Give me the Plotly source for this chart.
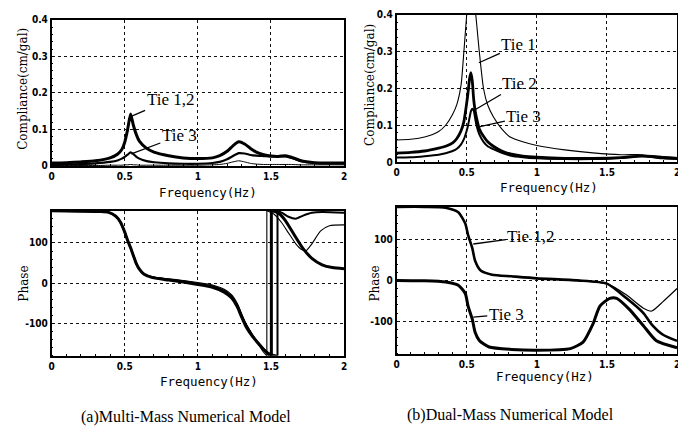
import plotly.graph_objects as go

# ---------------- data ----------------
# (a) multi-mass compliance
f_tl = [0, 0.1, 0.2, 0.3, 0.4, 0.45, 0.48, 0.5, 0.52, 0.54, 0.56, 0.58, 0.6, 0.65, 0.7, 0.8, 0.9, 1.0,
        1.1, 1.15, 1.2, 1.24, 1.28, 1.32, 1.36, 1.4, 1.45, 1.5, 1.55, 1.6, 1.64, 1.7, 1.8, 1.9, 2.0]
comp_a_tie12 = [0.008, 0.009, 0.011, 0.014, 0.022, 0.032, 0.045, 0.065, 0.1, 0.142, 0.11, 0.085, 0.068,
                0.048, 0.038, 0.028, 0.022, 0.02, 0.022, 0.028, 0.04, 0.055, 0.066, 0.06, 0.048, 0.038,
                0.031, 0.027, 0.026, 0.028, 0.024, 0.015, 0.009, 0.008, 0.008]
comp_a_tie3 = [0.003, 0.004, 0.005, 0.007, 0.011, 0.015, 0.02, 0.025, 0.031, 0.037, 0.032, 0.025, 0.02,
               0.013, 0.01, 0.007, 0.006, 0.006, 0.008, 0.011, 0.018, 0.027, 0.035, 0.034, 0.03, 0.028,
               0.027, 0.026, 0.026, 0.026, 0.022, 0.014, 0.008, 0.007, 0.007]
comp_a_thin = [0.001, 0.001, 0.001, 0.001, 0.002, 0.002, 0.002, 0.003, 0.003, 0.004, 0.003, 0.003, 0.002,
               0.002, 0.002, 0.002, 0.002, 0.002, 0.003, 0.004, 0.007, 0.011, 0.014, 0.011, 0.007, 0.005,
               0.004, 0.004, 0.004, 0.004, 0.004, 0.003, 0.003, 0.003, 0.003]

# (b) dual-mass compliance
f_tr = [0, 0.1, 0.2, 0.3, 0.35, 0.4, 0.43, 0.46, 0.48, 0.5, 0.51, 0.52, 0.53, 0.54, 0.55, 0.56, 0.57,
        0.59, 0.62, 0.65, 0.69, 0.75, 0.81, 0.9, 1.0, 1.2, 1.4, 1.6, 1.75, 1.9, 2.0]
comp_b_tie1 = [0.06, 0.062, 0.068, 0.083, 0.1, 0.13, 0.157, 0.21, 0.3, 0.4, 0.45, 0.5, 0.55, 0.52, 0.47,
               0.42, 0.38, 0.3, 0.2, 0.155, 0.123, 0.09, 0.068, 0.055, 0.045, 0.033, 0.025, 0.02, 0.02,
               0.015, 0.012]
comp_b_tie2 = [0.024, 0.026, 0.03, 0.038, 0.043, 0.052, 0.064, 0.085, 0.11, 0.16, 0.19, 0.225, 0.243,
               0.22, 0.17, 0.14, 0.12, 0.09, 0.07, 0.055, 0.043, 0.03, 0.022, 0.016, 0.013, 0.01, 0.01,
               0.012, 0.016, 0.012, 0.01]
comp_b_tie3 = [0.012, 0.013, 0.016, 0.02, 0.024, 0.03, 0.036, 0.048, 0.062, 0.085, 0.1, 0.12, 0.138,
               0.145, 0.14, 0.12, 0.1, 0.075, 0.055, 0.043, 0.035, 0.025, 0.018, 0.013, 0.01, 0.008,
               0.008, 0.011, 0.017, 0.01, 0.008]

# (a) multi-mass phase: each curve before and after its -180/+180 wrap
f_pa_pre = [0, 0.2, 0.33, 0.39, 0.44, 0.47, 0.50, 0.52, 0.54, 0.56, 0.58, 0.6, 0.63, 0.69, 0.8, 0.9,
            1.0, 1.1, 1.18, 1.23, 1.27, 1.3, 1.33, 1.37, 1.42]
ph_a_thick_pre = [180, 179, 178, 176, 166, 152, 127, 106, 88, 68, 48, 35, 23, 14, 8, 3, -3, -10, -22,
                  -36, -58, -84, -108, -130, -152]
ph_a_mid_pre = [180, 179, 178, 176, 166, 152, 127, 106, 88, 68, 48, 35, 23, 15, 9, 5, -1, -7, -18,
                -32, -54, -80, -104, -127, -150]
ph_a_thin_pre = [180, 179, 178, 176, 166, 152, 127, 106, 88, 68, 48, 35, 24, 16, 11, 7, 2, -4, -15,
                 -28, -50, -76, -100, -125, -155]
f_pa_thick_end = [1.46, 1.49, 1.503]
ph_a_thick_end = [-168, -178, -180]
f_pa_mid_end = [1.46, 1.5, 1.545]
ph_a_mid_end = [-166, -176, -180]
f_pa_thin_end = [1.45, 1.472]
ph_a_thin_end = [-171, -180]

f_pa_thick_post = [1.503, 1.53, 1.56, 1.6, 1.66, 1.72, 1.78, 1.85, 1.92, 2.0]
ph_a_thick_post = [180, 178, 172, 155, 120, 86, 62, 46, 39, 36]
f_pa_mid_post = [1.545, 1.58, 1.62, 1.67, 1.72, 1.78, 1.85, 2.0]
ph_a_mid_post = [180, 174, 165, 160, 168, 175, 177, 175]
f_pa_thin_post = [1.472, 1.52, 1.57, 1.62, 1.67, 1.71, 1.74, 1.78, 1.84, 1.9, 2.0]
ph_a_thin_post = [180, 172, 152, 125, 98, 84, 81, 98, 130, 143, 145]

# (b) dual-mass phase
f_pb = [0, 0.2, 0.35, 0.44, 0.49, 0.51, 0.54, 0.56, 0.6, 0.68, 0.82, 1.0, 1.29, 1.5, 1.64, 1.76,
        1.82, 1.9, 2.0]
ph_b_tie12_thin = [180, 180, 178, 167, 139, 111, 79, 48, 24, 14, 10, 5, 0, -8, -36, -68, -75, -52, -20]
ph_b_tie12_thick = [180, 180, 178, 167, 139, 111, 79, 48, 24, 14, 10, 5, 0, -8, -44, -80, -108, -133,
                    -148]
f_pb3 = [0, 0.2, 0.35, 0.44, 0.49, 0.51, 0.54, 0.56, 0.59, 0.66, 0.82, 1.0, 1.24, 1.33, 1.4, 1.45,
         1.52, 1.57, 1.66, 1.76, 1.85, 2.0]
ph_b_tie3 = [0, -1, -4, -12, -32, -63, -95, -127, -147, -163, -169, -171, -167, -151, -107, -63, -44,
             -44, -71, -111, -147, -165]

x_ticks = [0, 0.5, 1, 1.5, 2]
x_ticktext = ["0", "0.5", "1", "1.5", "2"]
comp_ticks = [0, 0.1, 0.2, 0.3, 0.4]
comp_ticktext = ["0", "0.1", "0.2", "0.3", "0.4"]
phase_ticks = [-100, 0, 100]
phase_ticktext = ["-100", "0", "100"]

# ---------------- figure ----------------
OFF = 8                      # default page (body) margin
W, H = 686 - OFF, 432 - OFF  # figure size
fig = go.Figure()


def line(x, y, xa, ya, w, shape="spline"):
    fig.add_trace(go.Scatter(x=x, y=y, xaxis=xa, yaxis=ya, mode="lines",
                             line=dict(color="black", width=w, shape=shape, smoothing=0.6),
                             showlegend=False, hoverinfo="skip"))


line(f_tl, comp_a_thin, "x", "y", 1)
line(f_tl, comp_a_tie3, "x", "y", 2.2)
line(f_tl, comp_a_tie12, "x", "y", 3)

line(f_tr, comp_b_tie1, "x2", "y2", 1.1)
line(f_tr, comp_b_tie3, "x2", "y2", 2)
line(f_tr, comp_b_tie2, "x2", "y2", 2.8)

for pre_v, end_f, end_v, post_f, post_v, w in [
        (ph_a_thin_pre, f_pa_thin_end, ph_a_thin_end, f_pa_thin_post, ph_a_thin_post, 1.1),
        (ph_a_mid_pre, f_pa_mid_end, ph_a_mid_end, f_pa_mid_post, ph_a_mid_post, 2),
        (ph_a_thick_pre, f_pa_thick_end, ph_a_thick_end, f_pa_thick_post, ph_a_thick_post, 3)]:
    line(f_pa_pre + end_f, pre_v + end_v, "x3", "y3", w)
    line([end_f[-1], post_f[0]], [end_v[-1], post_v[0]], "x3", "y3", w, "linear")
    line(post_f, post_v, "x3", "y3", w)

line(f_pb, ph_b_tie12_thin, "x4", "y4", 1.2)
line(f_pb, ph_b_tie12_thick, "x4", "y4", 2.6)
line(f_pb3, ph_b_tie3, "x4", "y4", 3)


def fx(px):
    return (px - OFF) / W


def fy(py):
    return 1 - (py - OFF) / H


def px_dom_x(a, b):
    return [fx(a), fx(b)]


def px_dom_y(top, bottom):
    return [fy(bottom), fy(top)]


tickfont = dict(family="DejaVu Sans Condensed, Liberation Sans Narrow, Liberation Sans", size=10,
                color="black", weight="bold")


def axis(dom, anchor, rng, tv, tt):
    return dict(domain=dom, anchor=anchor, range=rng, tickvals=tv, ticktext=tt,
                showline=True, linecolor="black", linewidth=1.6, mirror=True,
                showgrid=True, gridcolor="#111", griddash="dot", gridwidth=1,
                zeroline=False, ticks="", ticklen=0, tickfont=tickfont,
                minor=dict(ticks="inside", ticklen=2, tickcolor="black", showgrid=False),
                fixedrange=True)


fig.update_layout(
    width=W, height=H, margin=dict(l=0, r=0, t=0, b=0),
    paper_bgcolor="white", plot_bgcolor="white",
    xaxis=axis(px_dom_x(49, 344), "y", [0, 2], x_ticks, x_ticktext),
    yaxis=axis(px_dom_y(15, 165), "x", [0, 0.4], comp_ticks, comp_ticktext),
    xaxis2=axis(px_dom_x(397, 680), "y2", [0, 2], x_ticks, x_ticktext),
    yaxis2=axis(px_dom_y(10, 161), "x2", [0, 0.4], comp_ticks, comp_ticktext),
    xaxis3=axis(px_dom_x(49, 344), "y3", [0, 2], x_ticks, x_ticktext),
    yaxis3=axis(px_dom_y(211, 360), "x3", [-180, 180], phase_ticks, phase_ticktext),
    xaxis4=axis(px_dom_x(397, 680), "y4", [0, 2], x_ticks, x_ticktext),
    yaxis4=axis(px_dom_y(207, 358), "x4", [-180, 180], phase_ticks, phase_ticktext),
)

ann = []
mono = dict(family="DejaVu Sans Mono", size=12.5, color="black")
serif = dict(family="DejaVu Serif", size=12, color="black")


def ptext(text, x, y, font, angle=0):
    ann.append(dict(text=text, x=fx(x), y=fy(y), xref="paper", yref="paper",
                    xanchor="center", yanchor="middle", showarrow=False, font=font,
                    textangle=angle))


ptext("Frequency(Hz)", 207, 192, mono)
ptext("Frequency(Hz)", 208, 386, mono)
ptext("Frequency(Hz)", 551, 187, mono)
ptext("Frequency(Hz)", 547, 381, mono)
ptext("Compliance(cm/gal)", 20, 86, serif, -90)
ptext("Compliance(cm/gal)", 370, 82, serif, -90)
ptext("Phase", 21, 286, serif, -90)
ptext("Phase", 375, 286, serif, -90)

cap = dict(family="Liberation Serif", size=16, color="black")
ptext("(a)Multi-Mass Numerical Model", 185, 423, cap)
ptext("(b)Dual-Mass Numerical Model", 512, 421, cap)

tie = dict(family="Liberation Serif", size=17, color="black")


def label(text, xa, ya, x, y, ax, ay):
    ann.append(dict(text=text, x=x, y=y, xref=xa, yref=ya, ax=ax, ay=ay, axref="pixel",
                    ayref="pixel", showarrow=True, arrowhead=0, arrowwidth=1.3,
                    arrowcolor="black", font=tie, standoff=0, startstandoff=0))


label("Tie 1,2", "x", "y", 0.54, 0.135, 40, -17)
label("Tie 3", "x", "y", 0.545, 0.033, 48, -18)
label("Tie 1", "x2", "y2", 0.587, 0.27, 40, -18)
label("Tie 2", "x2", "y2", 0.55, 0.14, 46, -27)
label("Tie 3", "x2", "y2", 0.594, 0.096, 44, -10)
label("Tie 1,2", "x4", "y4", 0.547, 89, 58, -8)
label("Tie 3", "x4", "y4", 0.547, -90, 33, -3)

fig.update_layout(annotations=ann)
fig.write_html("out.html")
